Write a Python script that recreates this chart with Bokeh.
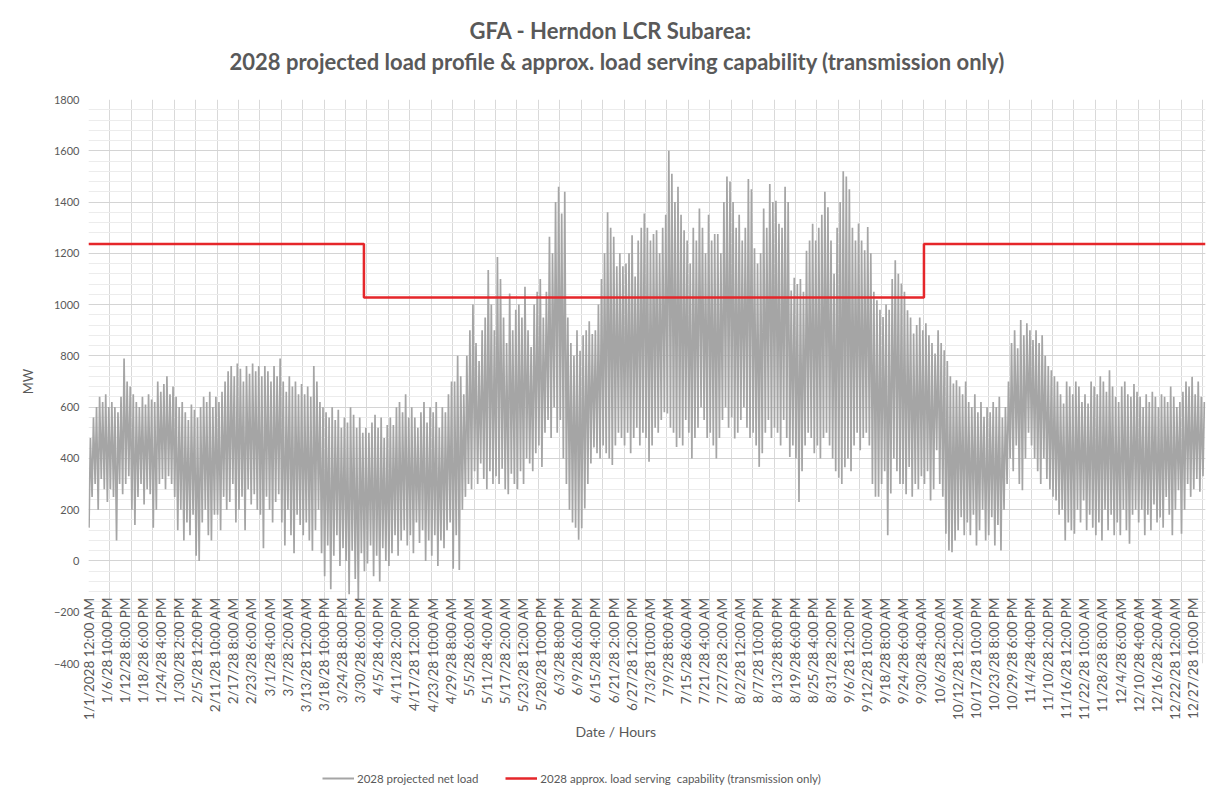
import math
from bokeh.plotting import figure
from bokeh.layouts import column
from bokeh.models import (Range1d, FixedTicker, SingleIntervalTicker, Legend,
                          LegendItem, Title)
from bokeh.embed import file_html
from bokeh.resources import INLINE

TITLE_1 = "GFA - Herndon LCR Subarea:"
TITLE_2 = "2028 projected load profile & approx. load serving capability (transmission only)"
X_TITLE = "Date / Hours"
Y_TITLE = "MW"
SERIES_LOAD = "2028 projected net load"
SERIES_CAP = "2028 approx. load serving  capability (transmission only)"

# category-axis labels, one every 142 hourly rows
TICK_STEP_HOURS = 142
TICK_LABELS = [
    "1/1/2028 12:00 AM", "1/6/28 10:00 PM", "1/12/28 8:00 PM", "1/18/28 6:00 PM",
    "1/24/28 4:00 PM", "1/30/28 2:00 PM", "2/5/28 12:00 PM", "2/11/28 10:00 AM",
    "2/17/28 8:00 AM", "2/23/28 6:00 AM", "3/1/28 4:00 AM", "3/7/28 2:00 AM",
    "3/13/28 12:00 AM", "3/18/28 10:00 PM", "3/24/28 8:00 PM", "3/30/28 6:00 PM",
    "4/5/28 4:00 PM", "4/11/28 2:00 PM", "4/17/28 12:00 PM", "4/23/28 10:00 AM",
    "4/29/28 8:00 AM", "5/5/28 6:00 AM", "5/11/28 4:00 AM", "5/17/28 2:00 AM",
    "5/23/28 12:00 AM", "5/28/28 10:00 PM", "6/3/28 8:00 PM", "6/9/28 6:00 PM",
    "6/15/28 4:00 PM", "6/21/28 2:00 PM", "6/27/28 12:00 PM", "7/3/28 10:00 AM",
    "7/9/28 8:00 AM", "7/15/28 6:00 AM", "7/21/28 4:00 AM", "7/27/28 2:00 AM",
    "8/2/28 12:00 AM", "8/7/28 10:00 PM", "8/13/28 8:00 PM", "8/19/28 6:00 PM",
    "8/25/28 4:00 PM", "8/31/28 2:00 PM", "9/6/28 12:00 PM", "9/12/28 10:00 AM",
    "9/18/28 8:00 AM", "9/24/28 6:00 AM", "9/30/28 4:00 AM", "10/6/28 2:00 AM",
    "10/12/28 12:00 AM", "10/17/28 10:00 PM", "10/23/28 8:00 PM", "10/29/28 6:00 PM",
    "11/4/28 4:00 PM", "11/10/28 2:00 PM", "11/16/28 12:00 PM", "11/22/28 10:00 AM",
    "11/28/28 8:00 AM", "12/4/28 6:00 AM", "12/10/28 4:00 AM", "12/16/28 2:00 AM",
    "12/22/28 12:00 AM", "12/27/28 10:00 PM",
]
TOTAL_HOURS = 8760
GRID_STEP_HOURS = 168

# daily peak / trough of the projected net load (MW)
DAILY_HIGH = [
    480, 560, 600, 640, 620, 650, 600,
    620, 600, 580, 640, 790, 700, 680,
    650, 620, 600, 640, 610, 650, 630,
    620, 700, 660, 690, 720, 650, 680,
    640, 600, 620, 580, 550, 610, 590,
    560, 600, 640, 620, 660, 600, 640,
    620, 660, 700, 740, 760, 720, 770,
    750, 700, 760, 730, 770, 740, 760,
    720, 760, 740, 700, 760, 720, 790,
    700, 660, 720, 680, 700, 650, 690,
    650, 680, 640, 760, 700, 620, 600,
    580, 560, 600, 550, 590, 520, 560,
    540, 600, 570, 520, 560, 500, 520,
    500, 540, 570, 520, 560, 480, 530,
    560, 530, 600, 620, 580, 650, 560,
    600, 560, 520, 580, 620, 540, 600,
    580, 620, 520, 600, 580, 650, 700,
    700, 800, 720, 650, 800, 900, 1000,
    850, 780, 900, 950, 1135, 1000, 900,
    1186, 1100, 950, 850, 1043, 900, 980,
    1000, 950, 1070, 900, 835, 1000, 1050,
    1100, 950, 1050, 1265, 1200, 1400, 1460,
    1355, 1440, 950, 850, 800, 900, 820,
    880, 900, 935, 885, 900, 1000, 1100,
    1200, 1360, 1300, 1265, 1150, 1200, 1150,
    1160, 1200, 1270, 1110, 1250, 1300, 1355,
    1300, 1250, 1275, 1290, 1200, 1300, 1350,
    1600, 1510, 1400, 1460, 1350, 1290, 1250,
    1160, 1300, 1250, 1375, 1300, 1200, 1350,
    1250, 1275, 1275, 1200, 1400, 1500, 1480,
    1400, 1300, 1350, 1250, 1300, 1490, 1450,
    1220, 1160, 1200, 1375, 1300, 1470, 1400,
    1405, 1315, 1300, 1460, 1400, 1055, 1105,
    1080, 1100, 1050, 1210, 1250, 1315, 1250,
    1300, 1350, 1440, 1380, 1250, 1120, 1300,
    1400, 1520, 1500, 1450, 1300, 1250, 1316,
    1250, 1212, 1303, 1200, 1050, 1017, 980,
    952, 1000, 980, 1100, 1173, 1120, 1082,
    1050, 978, 950, 887, 920, 950, 900,
    927, 880, 850, 809, 900, 850, 822,
    780, 720, 692, 705, 680, 650, 700,
    620, 600, 650, 580, 620, 562, 600,
    580, 620, 600, 640, 560, 600, 700,
    850, 900, 830, 940, 880, 927, 900,
    862, 900, 850, 880, 800, 760, 744,
    720, 700, 650, 614, 700, 680, 650,
    700, 680, 620, 650, 614, 700, 680,
    650, 720, 700, 660, 744, 680, 640,
    620, 680, 700, 650, 640, 690, 660,
    640, 600, 650, 620, 660, 640, 600,
    650, 640, 620, 680, 640, 600, 620,
    660, 700, 680, 718, 650, 700, 640,
    620,
]
DAILY_LOW = [
    130, 250, 300, 200, 320, 280, 230,
    280, 250, 80, 300, 260, 300, 330,
    200, 140, 250, 300, 220, 280, 260,
    130, 200, 300, 320, 280, 330, 300,
    250, 120, 200, 80, 150, 100, 180,
    20, 0, 150, 200, 100, 80, 180,
    180, 120, 250, 200, 230, 300, 150,
    200, 250, 120, 280, 220, 260, 200,
    180, 50, 250, 200, 150, 230, 260,
    150, 60, 200, 100, 30, 180, 140,
    100, 150, 80, 40, 120, 200, 30,
    -60, 60, -110, 20, 100, -20, 50,
    0, -130, 40, -70, -150, 30, -40,
    -10, 60, -60, 20, -80, 50, 0,
    -20, 30, 100, 20, 80, 120, 60,
    100, 30, 150, 70, 120, 0, 80,
    20, 100, -20, 80, 50, 120, 150,
    -30, 100, -35, 200, 250, 300, 280,
    350, 300, 380, 320, 280, 350, 300,
    330, 300, 360, 280, 260, 340, 300,
    280, 350, 300, 400, 380, 350, 420,
    450, 367, 500, 550, 480, 600, 500,
    550, 400, 300, 200, 150, 130, 83,
    128, 205, 300, 380, 443, 420, 400,
    450, 420, 400, 374, 450, 500, 480,
    450, 500, 420, 480, 520, 450, 500,
    480, 387, 450, 520, 500, 550, 580,
    575, 520, 500, 445, 480, 450, 550,
    500, 400, 480, 520, 600, 550, 480,
    500, 450, 400, 480, 550, 600, 520,
    560, 478, 500, 550, 600, 520, 480,
    500, 450, 367, 420, 500, 550, 480,
    520, 500, 450, 550, 480, 406, 450,
    400, 230, 350, 450, 500, 480, 420,
    450, 400, 480, 500, 450, 400, 350,
    325, 300, 366, 400, 350, 450, 500,
    432, 480, 500, 450, 300, 250, 250,
    300, 350, 100, 263, 400, 350, 300,
    300, 260, 367, 250, 300, 280, 330,
    300, 350, 236, 280, 432, 300, 250,
    106, 41, 34, 80, 120, 171, 100,
    150, 100, 180, 60, 120, 200, 80,
    100, 171, 60, 140, 41, 200, 300,
    400, 350, 450, 300, 276, 400, 500,
    450, 400, 350, 300, 400, 320, 280,
    250, 236, 180, 200, 80, 150, 120,
    106, 200, 150, 236, 120, 180, 130,
    100, 150, 80, 200, 120, 180, 100,
    150, 100, 200, 120, 67, 180, 200,
    150, 200, 100, 180, 120, 220, 150,
    170, 130, 250, 180, 100, 200, 276,
    106, 200, 300, 250, 280, 320, 270,
    330,
]
LOW_HOUR_OF_DAY = 4
HIGH_HOUR_OF_DAY = 15

# approx. load serving capability: step changes (hour index) and MW levels
CAP_START_HOUR = [0, 2160, 6552, 8760]
CAP_MW = [1236, 1028, 1236, 1236]

TEXT = "#595959"
FONT = "Lato"
LOAD_COLOR = "#a5a5a5"
CAP_COLOR = "#e5262a"

# hourly positions of the daily low / high points
xs, ys = [], []
for d, (lo, hi) in enumerate(zip(DAILY_LOW, DAILY_HIGH)):
    xs += [24 * d + LOW_HOUR_OF_DAY, 24 * d + HIGH_HOUR_OF_DAY]
    ys += [lo, hi]

# ---------------- main chart ----------------
p = figure(width=1216, height=750, output_backend="svg", toolbar_location=None,
           x_range=Range1d(0, TOTAL_HOURS), y_range=Range1d(-400, 1800),
           min_border_left=88, min_border_right=11, min_border_top=99,
           min_border_bottom=87, background_fill_color="white",
           border_fill_color="white", outline_line_color=None, title=None)

p.line(xs, ys, line_color=LOAD_COLOR, line_width=1.7)
p.step(CAP_START_HOUR, CAP_MW, mode="after", line_color=CAP_COLOR, line_width=2.5)

# x axis (category-like labels drawn over the lower part of the plot area)
tick_pos = [TICK_STEP_HOURS * k for k in range(len(TICK_LABELS))]
xa = p.xaxis[0]
xa.ticker = FixedTicker(ticks=tick_pos, minor_ticks=[])
xa.major_label_overrides = {t: lbl for t, lbl in zip(tick_pos, TICK_LABELS)}
xa.major_label_orientation = math.pi / 2
xa.major_label_standoff = -66
xa.major_label_text_font = FONT
xa.major_label_text_font_size = "13.5px"
xa.major_label_text_color = TEXT
xa.major_tick_in = 0
xa.major_tick_out = 0
xa.minor_tick_line_color = None
xa.axis_line_color = None

p.xgrid.ticker = FixedTicker(ticks=list(range(0, TOTAL_HOURS, GRID_STEP_HOURS)))
p.xgrid.grid_line_color = "#d9d9d9"

# y axis
yt = SingleIntervalTicker(interval=200, num_minor_ticks=5)
ya = p.yaxis[0]
ya.ticker = yt
ya.major_label_text_font = FONT
ya.major_label_text_font_size = "11px"
ya.major_label_text_color = TEXT
ya.major_label_standoff = 5
ya.major_tick_in = 0
ya.major_tick_out = 0
ya.minor_tick_line_color = None
ya.axis_line_color = None
ya.axis_label = Y_TITLE
ya.axis_label_text_font = FONT
ya.axis_label_text_font_size = "13px"
ya.axis_label_text_font_style = "normal"
ya.axis_label_text_color = TEXT
ya.axis_label_standoff = 15
p.ygrid.ticker = yt
p.ygrid.grid_line_color = "#d4d4d4"
p.ygrid.minor_grid_line_color = "#ececec"

# spacing between the plot area and the two-line chart title
p.add_layout(Title(text=" ", text_font_size="1px", standoff=22), "above")
title_kw = dict(align="left", vertical_align="bottom", text_font=FONT,
                text_font_size="22px", text_font_style="bold", text_color=TEXT)
p.add_layout(Title(text=TITLE_2, offset=141, standoff=0, **title_kw), "above")
p.add_layout(Title(text=TITLE_1, offset=381, standoff=4, **title_kw), "above")

# horizontal axis title
p.add_layout(Title(text=X_TITLE, align="left", vertical_align="top", offset=487,
                   standoff=0, text_font=FONT, text_font_size="14px",
                   text_font_style="normal", text_color=TEXT), "below")

# ---------------- legend strip under the chart ----------------
# key renderers reuse the series data; the strip's ranges keep them out of view
lg = figure(width=1216, height=54, output_backend="svg", toolbar_location=None,
            x_range=Range1d(-2, -1), y_range=Range1d(-2, -1),
            x_axis_type=None, y_axis_type=None, min_border_left=0,
            min_border_right=0, min_border_top=0, min_border_bottom=0,
            outline_line_color=None, background_fill_color="white",
            border_fill_color="white", title=None)
key_load = lg.line(xs, ys, line_color=LOAD_COLOR, line_width=2)
key_cap = lg.step(CAP_START_HOUR, CAP_MW, mode="after", line_color=CAP_COLOR,
                  line_width=2.5)
legend = Legend(items=[LegendItem(label=SERIES_LOAD, renderers=[key_load]),
                       LegendItem(label=SERIES_CAP, renderers=[key_cap])],
                orientation="horizontal", location=(234, 18),
                glyph_width=32, glyph_height=16, label_standoff=3, spacing=27,
                padding=0, margin=0, border_line_color=None,
                background_fill_alpha=0, label_text_font=FONT,
                label_text_font_size="11.5px", label_text_color=TEXT)
lg.add_layout(legend)

layout = column(p, lg, spacing=0)
open("out.html", "w").write(file_html(layout, INLINE))
